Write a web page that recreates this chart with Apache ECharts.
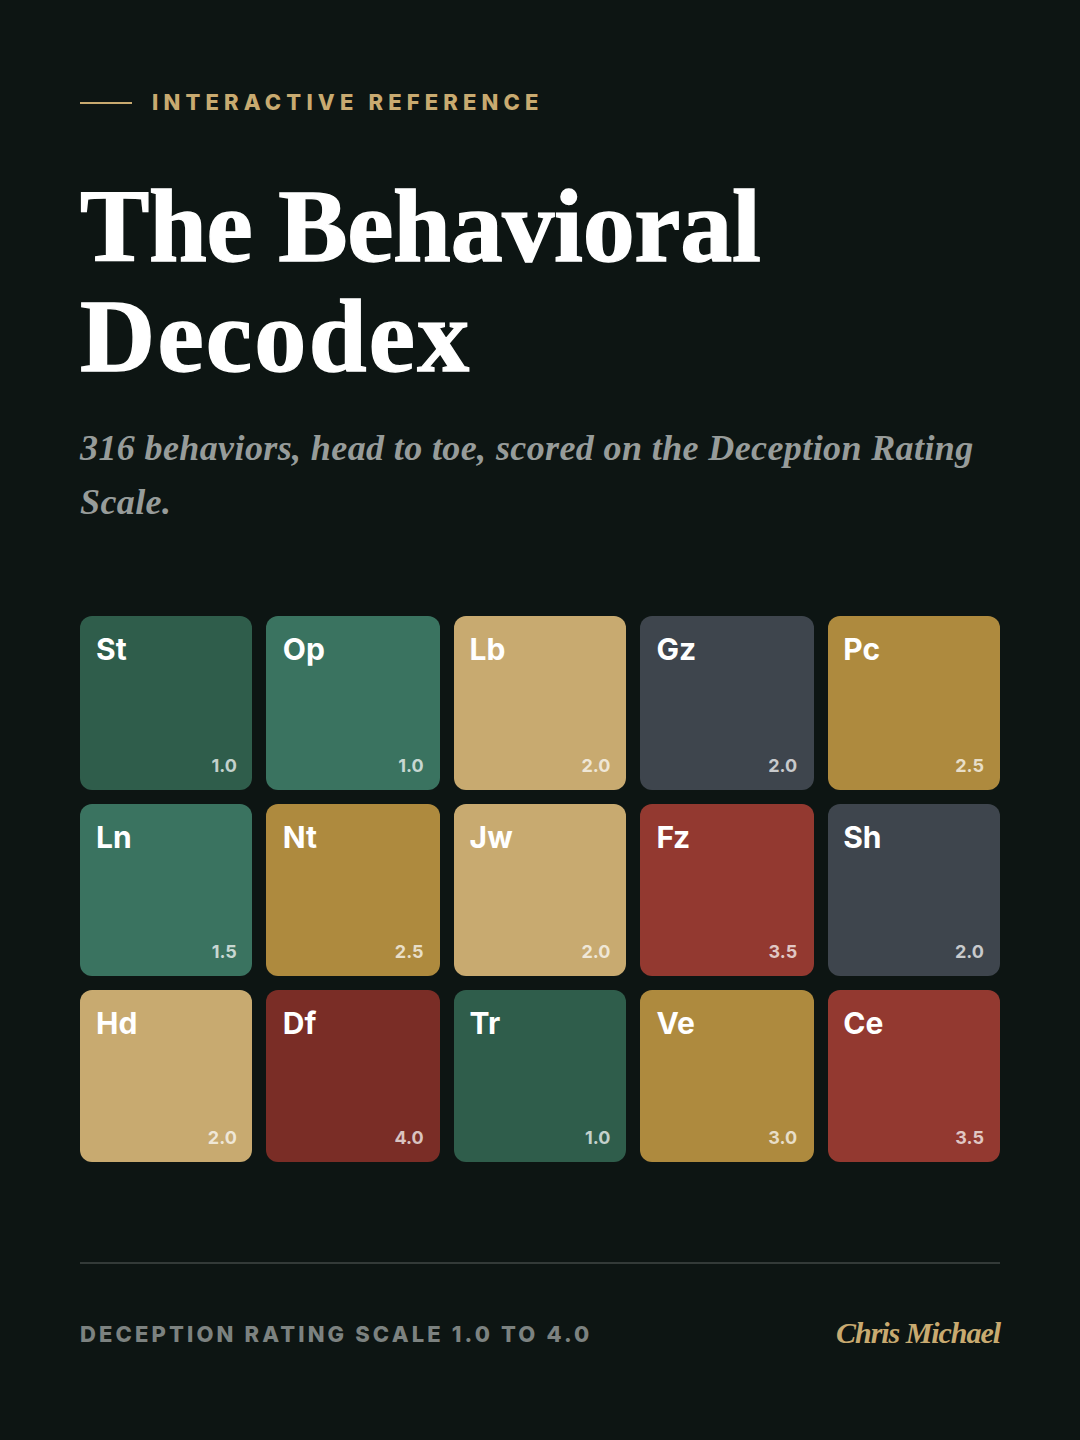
<!DOCTYPE html>
<html>
<head>
<meta charset="utf-8">
<title>The Behavioral Decodex</title>
<script src="https://cdn.jsdelivr.net/npm/echarts@6/dist/echarts.min.js"></script>
<style>
html, body { margin: 0; padding: 0; background: #0d1513; }
#chart { width: 1080px; height: 1440px; }
</style>
</head>
<body>
<div id="chart"></div>
<script>
var codes = ['St', 'Op', 'Lb', 'Gz', 'Pc', 'Ln', 'Nt', 'Jw', 'Fz', 'Sh', 'Hd', 'Df', 'Tr', 'Ve', 'Ce'];
var ratings = [1.0, 1.0, 2.0, 2.0, 2.5, 1.5, 2.5, 2.0, 3.5, 2.0, 2.0, 4.0, 1.0, 3.0, 3.5];
var tones = ['pine', 'sage', 'sand', 'slate', 'ochre', 'sage', 'ochre', 'sand', 'brick', 'slate', 'sand', 'oxblood', 'pine', 'ochre', 'brick'];
var columns = ['c1', 'c2', 'c3', 'c4', 'c5'];
var rows = ['r1', 'r2', 'r3'];

var palette = {
    pine: '#2f5d4b',
    sage: '#3a7360',
    sand: '#c8aa70',
    slate: '#3e454d',
    ochre: '#ae8a3e',
    brick: '#933930',
    oxblood: '#7a2d26'
};

var SERIF = '"Liberation Serif", serif';
var SANS = 'Inter, sans-serif';

var cells = [];
for (var i = 0; i < codes.length; i++) {
    cells.push([columns[i % 5], rows[Math.floor(i / 5)], codes[i], ratings[i], tones[i]]);
}

// 14px gap between cells, half of it sits outside the grid box
var GAP = 14;

// the reference edges land on even pixels
function snap(v) {
    return Math.round(v / 2) * 2;
}

function renderCell(params, api) {
    var center = api.coord([api.value(0), api.value(1)]);
    var band = api.size([1, 1]);
    var w = band[0] - GAP;
    var h = band[1] - GAP;
    var x = center[0] - w / 2;
    var y = center[1] - h / 2;
    var left = snap(x), right = snap(x + w);
    var top = snap(y), bottom = snap(y + h);
    return {
        type: 'group',
        children: [
            {
                type: 'rect',
                shape: { x: left, y: top, width: right - left, height: bottom - top, r: 12 },
                style: { fill: palette[api.value(4)] }
            },
            {
                type: 'text',
                style: {
                    x: x + 16, y: top + 33, text: String(api.value(2)),
                    fill: '#ffffff', font: '700 30px ' + SANS,
                    textAlign: 'left', textVerticalAlign: 'middle'
                }
            },
            {
                type: 'text',
                style: {
                    x: x + w - 16, y: bottom - 25, text: api.value(3).toFixed(1),
                    fill: 'rgba(255,255,255,0.72)', font: '700 18px ' + SANS,
                    textAlign: 'right', textVerticalAlign: 'middle'
                }
            }
        ]
    };
}

function label(text, x, y, font, fill, align) {
    return {
        type: 'text', x: x, y: y, silent: true,
        style: { text: text, font: font, fill: fill, textAlign: align || 'left', textVerticalAlign: 'middle' }
    };
}

// liberation is lighter than the display face, thicken the headline a bit
function heading(text, y) {
    var el = label(text, 80, y, '700 104px ' + SERIF, '#ffffff');
    el.style.stroke = '#ffffff';
    el.style.lineWidth = 1.4;
    return el;
}

var chart = echarts.init(document.getElementById('chart'), null, { renderer: 'svg' });

chart.setOption({
    animation: false,
    backgroundColor: '#0d1513',
    grid: { left: 80 - GAP / 2, top: 616.4 - GAP / 2, width: 920 + GAP, height: 546.4 + GAP },
    xAxis: { type: 'category', data: columns, show: false },
    yAxis: { type: 'category', data: rows, inverse: true, show: false },
    tooltip: { show: false },
    series: [{
        type: 'custom',
        renderItem: renderCell,
        data: cells,
        encode: { x: 0, y: 1 }
    }],
    graphic: [
        { type: 'rect', shape: { x: 80, y: 102, width: 52, height: 2 }, style: { fill: '#c8aa70' } },
        label('INTERACTIVE REFERENCE', 152, 102, '800 22px ' + SANS, '#c8aa70'),
        heading('The Behavioral', 225),
        heading('Decodex', 335),
        label('316 behaviors, head to toe, scored on the Deception Rating', 80, 448, 'italic 700 36px ' + SERIF, '#979c9a'),
        label('Scale.', 80, 502, 'italic 700 36px ' + SERIF, '#979c9a'),
        { type: 'rect', shape: { x: 80, y: 1262, width: 920, height: 2 }, style: { fill: '#333a38' } },
        label('DECEPTION RATING SCALE 1.0 TO 4.0', 80, 1334, '800 22px ' + SANS, '#7c8280'),
        label('Chris Michael', 1000, 1332, 'italic 700 30px ' + SERIF, '#c8aa70', 'right')
    ]
});

// echarts has no letter spacing option, set it on the svg text nodes
var spacing = {
    'INTERACTIVE REFERENCE': '5.15px',
    'DECEPTION RATING SCALE 1.0 TO 4.0': '3.12px',
    'The Behavioral': '-0.3px',
    'Decodex': '2.3px',
    '316 behaviors, head to toe, scored on the Deception Rating': '0.39px',
    'Scale.': '0.39px',
    'Chris Michael': '-1.05px'
};
var nodes = document.querySelectorAll('#chart svg text');
for (var n = 0; n < nodes.length; n++) {
    var sp = spacing[nodes[n].textContent];
    if (sp) nodes[n].style.letterSpacing = sp;
}
</script>
</body>
</html>
